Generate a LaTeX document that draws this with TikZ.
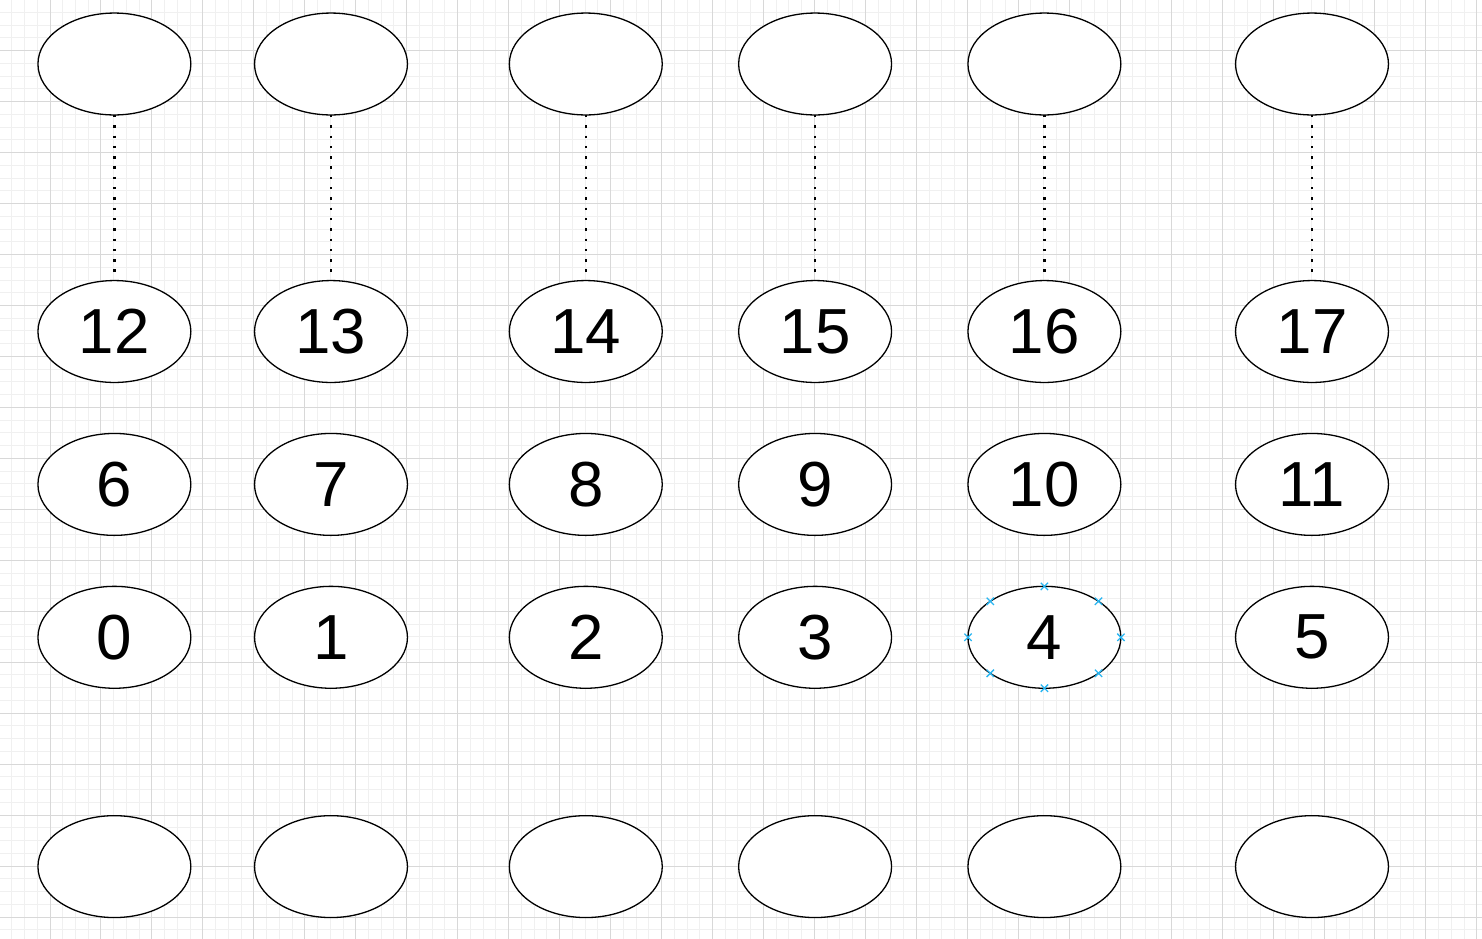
\documentclass[tikz,border=0pt]{standalone}
\usepackage{fontspec}
\setmainfont{Liberation Sans}
\usetikzlibrary{shapes,arrows,positioning}

\definecolor{minorline}{RGB}{240,240,240}
\definecolor{majorline}{RGB}{216,216,216}
\definecolor{handleblue}{RGB}{41,182,242}

\begin{document}
\begin{tikzpicture}[x=1pt, y=-1pt,
    cell/.style={ellipse, draw, line width=1.3pt, fill=white, minimum width=152.9pt, minimum height=101.9pt, inner sep=0pt, outer sep=0pt, font=\fontsize{63.7}{76}\selectfont},
    dotlink/.style={line width=2.6pt, dash pattern=on 2.4pt off 7.9pt},
    handle/.style={cross out, draw=handleblue, line width=1.3pt, minimum size=6pt, inner sep=0pt}]
    \useasboundingbox[fill=white] (0,0) rectangle (1482,938);

    % background grid
    \begin{scope}[shift={(11.78,12.48)}]
        \draw[minorline, line width=1pt, step=12.74pt] (-20,-20) grid (1480,935);
    \end{scope}
    \begin{scope}[shift={(50.0,50.7)}]
        \draw[majorline, line width=1pt, step=50.96pt] (-60,-60) grid (1440,890);
    \end{scope}

    % top row (empty)
    \node (up12) [cell] at (114.4,64) {};
    \node (up13) [cell] at (331.0,64) {};
    \node (up14) [cell] at (585.8,64) {};
    \node (up15) [cell] at (815.1,64) {};
    \node (up16) [cell] at (1044.4,64) {};
    \node (up17) [cell] at (1312.0,64) {};

    \node (n12) [cell] at (114.4,331.5) {12};
    \node (n13) [cell] at (331.0,331.5) {13};
    \node (n14) [cell] at (585.8,331.5) {14};
    \node (n15) [cell] at (815.1,331.5) {15};
    \node (n16) [cell] at (1044.4,331.5) {16};
    \node (n17) [cell] at (1312.0,331.5) {17};

    \node (n6) [cell] at (114.4,484.4) {6};
    \node (n7) [cell] at (331.0,484.4) {7};
    \node (n8) [cell] at (585.8,484.4) {8};
    \node (n9) [cell] at (815.1,484.4) {9};
    \node (n10) [cell] at (1044.4,484.4) {10};
    \node (n11) [cell] at (1312.0,484.4) {11};

    \node (n0) [cell] at (114.4,637.3) {0};
    \node (n1) [cell] at (331.0,637.3) {1};
    \node (n2) [cell] at (585.8,637.3) {2};
    \node (n3) [cell] at (815.1,637.3) {3};
    \node (n4) [cell] at (1044.4,637.3) {4};
    \node (n5) [cell] at (1312.0,637.3) {5};

    % bottom row (empty)
    \node (low0) [cell] at (114.4,866.6) {};
    \node (low1) [cell] at (331.0,866.6) {};
    \node (low2) [cell] at (585.8,866.6) {};
    \node (low3) [cell] at (815.1,866.6) {};
    \node (low4) [cell] at (1044.4,866.6) {};
    \node (low5) [cell] at (1312.0,866.6) {};

    \draw[dotlink] (up12) -- (n12);
    \draw[dotlink] (up13) -- (n13);
    \draw[dotlink] (up14) -- (n14);
    \draw[dotlink] (up15) -- (n15);
    \draw[dotlink] (up16) -- (n16);
    \draw[dotlink] (up17) -- (n17);

    % selection handles on 4
    \node (h1) [handle] at (1120.9,637.3) {};
    \node (h2) [handle] at (1098.5,601.3) {};
    \node (h3) [handle] at (1044.4,586.4) {};
    \node (h4) [handle] at (990.3,601.3) {};
    \node (h5) [handle] at (968.0,637.3) {};
    \node (h6) [handle] at (990.3,673.3) {};
    \node (h7) [handle] at (1044.4,688.2) {};
    \node (h8) [handle] at (1098.5,673.3) {};
\end{tikzpicture}
\end{document}
